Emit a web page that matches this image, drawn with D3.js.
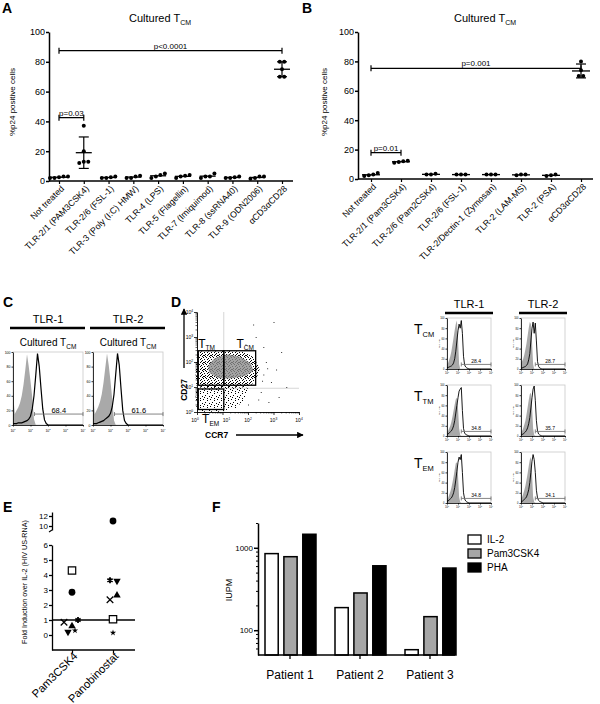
<!DOCTYPE html>
<html><head><meta charset="utf-8">
<script src="https://cdn.jsdelivr.net/npm/d3@7/dist/d3.min.js"></script>
<style>html,body{margin:0;padding:0;background:#fff}svg{display:block}</style>
</head><body>
<svg id="fig" width="600" height="704" xmlns="http://www.w3.org/2000/svg"></svg>
<script>
// ================= DATA =================
// Panel A
const aCategories = ["Not treated","TLR-2/1 (PAM3CSK4)","TLR-2/6 (FSL-1)","TLR-3 (Poly (I:C) HMW)","TLR-4 (LPS)","TLR-5 (Flagellin)","TLR-7 (Imiquimod)","TLR-8 (ssRNA40)","TLR-9 (ODN2006)","αCD3αCD28"];
const aValues = [[2,3,2.5,3,2],[37,20,13,12,13],[2,3,2.5,2],[3,2,3.5,2],[5,2,3,4],[3.5,2,3,4],[5,2,3,3],[2,3,2.5,2],[3,2,1.5,3],[80,80,75,70,70]];
const aBrackets = [{from:0,to:1,level:42.5,label:"p=0.03"},{from:0,to:9,level:87.5,label:"p<0.0001"}];
// Panel B
const bCategories = ["Not treated","TLR-2/1 (Pam3CSK4)","TLR-2/6 (Pam2CSK4)","TLR-2/6 (FSL-1)","TLR-2/Dectin-1 (Zymosan)","TLR-2 (LAM-MS)","TLR-2 (PSA)","αCD3αCD28"];
const bValues = [[4,2,2.5,3],[12.5,11.5,12,11],[3.5,3,3],[3,3,3],[3,3,3],[3,2.5,3],[3,2,2.5],[80,74,70,70]];
const bBrackets = [{from:0,to:1,level:17.9,label:"p=0.01"},{from:0,to:7,level:75.3,label:"p=0.001"}];
const yTicksPct = [0,20,40,60,80,100];

// Histograms (values = % of max at log10 intensity 0.0,0.1,...,2.0)
const cTlr1Gray  = [45,15,20,24,30,40,55,75,97,80,60,38,8,0,0,0,0,0,0,0,0];
const cTlr1Black = [2,2,2,3,3,3,4,5,6,8,12,22,40,68,98,80,50,22,7,2,0];
const cTlr2Gray  = [45,15,20,25,32,42,58,78,98,82,60,35,6,0,0,0,0,0,0,0,0];
const cTlr2Black = [2,2,2,3,4,5,6,8,10,12,16,25,42,70,98,82,50,20,6,2,0];
const cGates = [68.4, 61.6];
const dCmTlr1Gray  = [10,12,18,25,35,48,62,76,88,95,60,10,0,0,0,0,0,0,0,0,0];
const dCmTlr1Black = [3,3,4,5,6,8,12,20,35,55,75,88,80,95,70,25,8,4,2,1,0];
const dCmTlr2Gray  = [12,15,20,28,38,50,65,80,92,88,55,10,0,0,0,0,0,0,0,0,0];
const dCmTlr2Black = [2,2,3,4,5,7,10,18,30,55,80,92,70,90,55,15,5,2,1,0,0];
const dTmTlr1Gray  = [8,10,15,20,28,38,50,62,72,75,55,15,2,0,0,0,0,0,0,0,0];
const dTmTlr1Black = [3,4,6,8,10,14,20,30,45,60,75,88,92,95,50,15,6,3,2,1,0];
const dTmTlr2Gray  = [8,10,15,22,30,42,56,70,82,85,60,15,2,0,0,0,0,0,0,0,0];
const dTmTlr2Black = [2,3,4,6,8,11,16,24,36,55,75,92,98,70,30,10,4,2,1,0,0];
const dEmTlr1Gray  = [8,10,16,22,30,40,52,65,78,80,55,12,2,0,0,0,0,0,0,0,0];
const dEmTlr1Black = [3,4,6,8,10,14,20,30,45,62,80,90,85,95,60,20,8,4,2,1,0];
const dEmTlr2Gray  = [10,12,18,25,34,45,58,72,85,90,60,12,2,0,0,0,0,0,0,0,0];
const dEmTlr2Black = [2,3,5,7,9,12,18,26,40,60,82,95,85,60,25,10,5,3,2,1,0];
const dGates = [[28.4,28.7],[34.8,35.7],[34.8,34.1]];
const dRows = ["CM","TM","EM"];
const dCols = ["TLR-1","TLR-2"];
const decades = [0,1,2,3,4];

// Scatter (log10 CCR7, log10 CD27)
const scatDense = [[0.02,1.0],[2.0,1.0],[2.35,1.4],[2.45,1.7],[2.35,1.95],[2.2,2.2],[1.8,2.4],[1.2,2.45],[0.6,2.42],[0.02,2.38]];
const scatSparse = [[0.02,0.05],[1.0,0.02],[1.5,0.15],[1.85,0.5],[1.95,1.0],[0.02,1.0]];
const scatCore = [[0.5,1.55],[0.9,1.35],[1.4,1.35],[1.9,1.45],[2.2,1.65],[2.1,1.95],[1.7,2.2],[1.2,2.3],[0.7,2.15],[0.45,1.85]];
const scatOutliers = [[2.6,1.5],[2.7,2.0],[2.9,1.2],[3.1,1.7],[2.5,0.8],[2.8,0.4],[3.3,2.4],[3.0,3.6],[2.2,3.5],[2.4,0.5],[3.5,1.0],[2.6,2.6],[1.9,2.7],[2.0,0.3],[3.2,0.6],[2.3,3.0],[2.55,1.25],[2.75,1.75]];
const gateTM = [[0.05,1.07],[1.05,2.45]];
const gateCM = [[1.05,1.07],[2.3,2.45]];
const gateEM = [[0.05,0.1],[1.05,0.92]];

// Panel E
const eCategories = ["Pam3CSK4","Panobinostat"];
const eSquare   = [4.3, 1.05];
const eCircle   = [2.85, 11];
const eCross    = [0.85, 2.35];
const eTriUp    = [0.6, 2.65];
const eTriDown  = [0.2, 3.6];
const eStar     = [0.3, 0.15];
const eAsterisk = [1.0, 3.65];
const eLowTicks = [0,1,2,3,4,5,6];
const eHighTicks = [10,12];
const eReference = 1;

// Panel F
const fPatients = ["Patient 1","Patient 2","Patient 3"];
const fSeries = ["IL-2","Pam3CSK4","PHA"];
const fIL2  = [850,188,58];
const fPam3 = [780,283,146];
const fPHA  = [1460,605,568];
const fTicks = [100,1000];

// ================= DRAW =================
const FONT = '"Liberation Sans", Arial, Helvetica, sans-serif';
const svg = d3.select('#fig').attr('font-family', FONT);
const defs = svg.append('defs');

function styleAxis(sel, fs, sw){
  sel.selectAll('text').attr('font-size', fs).attr('font-family', FONT).attr('fill','#000');
  sel.selectAll('line').attr('stroke','#000').attr('stroke-width', sw);
  sel.select('.domain').attr('stroke','#000').attr('stroke-width', sw);
}
function subText(g, x, y, main, sub, size, anchor, subSize, subDy){
  const t = g.append('text').attr('x',x).attr('y',y).attr('font-size',size).attr('text-anchor',anchor||'start');
  t.append('tspan').text(main);
  t.append('tspan').attr('font-size', subSize||size*0.6).attr('dy', subDy!==undefined?subDy:size*0.25).text(sub);
  return t;
}
function supText(g, x, y, base, exp, size, anchor){
  const t = g.append('text').attr('x',x).attr('y',y).attr('font-size',size).attr('text-anchor',anchor||'middle');
  t.append('tspan').text(base);
  t.append('tspan').attr('font-size', size*0.65).attr('dy', -size*0.4).text(exp);
  return t;
}
function panelLabel(t,x,y){
  svg.append('text').attr('x',x).attr('y',y).attr('font-size',14).attr('font-weight','bold').text(t);
}
function spread(vals, thr, gap){
  const idx = vals.map((v,i)=>i).sort((a,b)=>vals[a]-vals[b]);
  const off = new Array(vals.length).fill(0);
  let cl=[idx[0]];
  const flush=()=>{const n=cl.length; cl.forEach((k,j)=>off[k]=(j-(n-1)/2)*gap);};
  for(let i=1;i<idx.length;i++){ if(vals[idx[i]]-vals[idx[i-1]]<thr) cl.push(idx[i]); else {flush(); cl=[idx[i]];} }
  flush();
  return off;
}

function dotPanel(o){
  const g = svg.append('g');
  const y = d3.scaleLinear().domain([0,100]).range([o.yb,o.yt]);
  const x = d3.scalePoint().domain(o.cats).range([o.xf,o.xl]);
  g.append('g').attr('transform',`translate(${o.xa},0)`)
    .call(d3.axisLeft(y).tickValues(yTicksPct).tickSize(3).tickSizeOuter(0).tickPadding(1))
    .call(s=>styleAxis(s,9,1.5));
  g.append('g').attr('transform',`translate(0,${o.yb})`)
    .call(d3.axisBottom(x).tickSize(3).tickSizeOuter(0))
    .call(s=>{ s.select('.domain').remove(); styleAxis(s,8.8,1.2);
      s.selectAll('text').attr('text-anchor','end').attr('y',0).attr('dy','0.35em').attr('transform','translate(3,6) rotate(-45)'); });
  g.append('line').attr('x1',o.xa).attr('x2',o.xe).attr('y1',o.yb).attr('y2',o.yb).attr('stroke','#000').attr('stroke-width',1.5);
  g.append('text').attr('transform',`translate(${o.ytx},${o.yty}) rotate(-90)`).attr('text-anchor','middle').attr('font-size',8).text('%p24 positive cells');
  subText(g,o.tx,o.ty,'Cultured T','CM',11,'middle',7,3);
  o.vals.forEach((vals,i)=>{
    const cx = x(o.cats[i]);
    const m = d3.mean(vals), sd = d3.deviation(vals);
    const off = spread(vals, 2.5, 4.5);
    vals.forEach((v,j)=>g.append('circle').attr('cx',cx+off[j]).attr('cy',y(v)).attr('r',2).attr('fill','#000'));
    g.append('line').attr('x1',cx-o.mw/2).attr('x2',cx+o.mw/2).attr('y1',y(m)).attr('y2',y(m)).attr('stroke','#000').attr('stroke-width',1.3);
    if(sd*1.47>2){
      g.append('line').attr('x1',cx).attr('x2',cx).attr('y1',y(m-sd)).attr('y2',y(m+sd)).attr('stroke','#000').attr('stroke-width',1.2);
      [m-sd,m+sd].forEach(v=>g.append('line').attr('x1',cx-5).attr('x2',cx+5).attr('y1',y(v)).attr('y2',y(v)).attr('stroke','#000').attr('stroke-width',1.2));
    }
  });
  o.brackets.forEach(b=>{
    const x1=x(o.cats[b.from]), x2=x(o.cats[b.to]), yy=y(b.level);
    g.append('path').attr('d',`M${x1},${yy-3}V${yy+3}M${x1},${yy}H${x2}M${x2},${yy-3}V${yy+3}`).attr('stroke','#000').attr('stroke-width',1.2).attr('fill','none');
    g.append('text').attr('x',(x1+x2)/2).attr('y',yy-2).attr('text-anchor','middle').attr('font-size',8).text(b.label);
  });
}

panelLabel('A',2,13);
dotPanel({cats:aCategories,vals:aValues,brackets:aBrackets,xa:49,xe:293,yb:181,yt:32,xf:59,xl:282,tx:160,ty:22,ytx:15,yty:102,mw:16});
panelLabel('B',302,13);
dotPanel({cats:bCategories,vals:bValues,brackets:bBrackets,xa:358,xe:593,yb:179,yt:32,xf:371,xl:581,tx:485,ty:22,ytx:327,yty:102,mw:18});

// ---------- histogram helper ----------
function histo(o){
  const g = svg.append('g');
  const x = d3.scaleLinear().domain([0,4]).range([o.L,o.R]);
  const y = d3.scaleLinear().domain([0,100]).range([o.B,o.T]);
  g.append('rect').attr('x',o.L).attr('y',o.T).attr('width',o.R-o.L).attr('height',o.B-o.T).attr('fill','none').attr('stroke','#c8c8c8').attr('stroke-width',0.8);
  const pts = arr => arr.map((v,i)=>[i*0.1, v]);
  g.append('path').datum(pts(o.gray)).attr('fill','#a9a9a9')
    .attr('d', d3.area().x(d=>x(d[0])).y0(y(0)).y1(d=>y(d[1])));
  g.append('path').datum(pts(o.black).concat([[4,0]])).attr('fill','none').attr('stroke','#000').attr('stroke-width',o.lw||1)
    .attr('d', d3.line().x(d=>x(d[0])).y(d=>y(d[1])));
  g.append('g').attr('transform',`translate(${o.L},0)`)
    .call(d3.axisLeft(y).tickValues(yTicksPct).tickSize(1.5).tickSizeOuter(0).tickPadding(1))
    .call(s=>styleAxis(s,o.fs,0.8));
  g.append('g').attr('transform',`translate(0,${o.B})`)
    .call(d3.axisBottom(x).tickValues(decades).tickSize(1.5).tickSizeOuter(0).tickFormat(''))
    .call(s=>styleAxis(s,o.fs,0.8));
  decades.forEach(k=>supText(g,x(k),o.B+o.fs*1.6+1,'10',String(k),o.fs,'middle'));
  const gy = y(o.gateY), gx1 = x(o.gateFrom), gx2 = x(4);
  g.append('path').attr('d',`M${gx1},${gy-2}V${gy+2}M${gx1},${gy}H${gx2}M${gx2},${gy-2}V${gy+2}`).attr('stroke','#777').attr('stroke-width',0.9).attr('fill','none');
  g.append('text').attr('x',(gx1+gx2)/2).attr('y',gy-1.5).attr('text-anchor','middle').attr('font-size',o.gfs).text(o.gateLabel.toFixed(1));
  if(o.ylab) g.append('text').attr('transform',`translate(${o.L-o.fs*2.6},${(o.T+o.B)/2}) rotate(-90)`).attr('text-anchor','middle').attr('font-size',o.fs*0.8).text('% of Max');
}

// ---------- Panel C ----------
panelLabel('C',3,307);
const cPlots = [[13,83,cTlr1Gray,cTlr1Black],[93,163,cTlr2Gray,cTlr2Black]];
cPlots.forEach((p,i)=>{
  const cx=(p[0]+p[1])/2;
  svg.append('text').attr('x',cx).attr('y',323).attr('text-anchor','middle').attr('font-size',11).text(dCols[i]);
  svg.append('line').attr('x1',p[0]-3).attr('x2',p[1]+2).attr('y1',328).attr('y2',328).attr('stroke','#000').attr('stroke-width',2.5);
  subText(svg,cx,346,'Cultured T','CM',10,'middle',6.5,3);
  histo({L:p[0],R:p[1],T:352,B:425,gray:p[2],black:p[3],fs:3.5,gfs:7.5,gateY:15,gateFrom:1.23,gateLabel:cGates[i],lw:1.2});
});

// ---------- Panel D scatter ----------
panelLabel('D',171,307);
(function(){
  const g = svg.append('g');
  const x = d3.scaleLinear().domain([0,4]).range([197,299]);
  const y = d3.scaleLinear().domain([0,4]).range([412,312]);
  const pd = defs.append('pattern').attr('id','dense').attr('width',7).attr('height',7).attr('patternUnits','userSpaceOnUse');
  [[0,0],[3,0],[5,1],[1,2],[4,2],[6,3],[2,4],[0,5],[4,5],[6,6],[2,6],[5,4],[1,5]].forEach(p=>pd.append('rect').attr('x',p[0]).attr('y',p[1]).attr('width',1).attr('height',1).attr('fill','#000'));
  const ps = defs.append('pattern').attr('id','sparse').attr('width',7).attr('height',7).attr('patternUnits','userSpaceOnUse');
  [[0,0],[4,1],[2,3],[6,4],[1,5],[4,6]].forEach(p=>ps.append('rect').attr('x',p[0]).attr('y',p[1]).attr('width',1).attr('height',1).attr('fill','#000'));
  g.append('line').attr('x1',x(1.05)).attr('x2',x(1.05)).attr('y1',y(4)).attr('y2',y(0)).attr('stroke','#ccc').attr('stroke-width',0.8);
  g.append('line').attr('x1',x(0)).attr('x2',x(4)).attr('y1',y(0.95)).attr('y2',y(0.95)).attr('stroke','#ccc').attr('stroke-width',0.8);
  const line = d3.line().x(d=>x(d[0])).y(d=>y(d[1])).curve(d3.curveCardinalClosed.tension(0.6));
  g.append('path').datum(scatSparse).attr('d',line).attr('fill','url(#sparse)');
  g.append('path').datum(scatDense).attr('d',line).attr('fill','url(#dense)');
  g.append('path').datum(scatCore).attr('d',line).attr('fill','#8c8c8c').attr('opacity',0.8);
  scatOutliers.forEach(p=>g.append('rect').attr('x',x(p[0])).attr('y',y(p[1])).attr('width',1).attr('height',1).attr('fill','#333'));
  [gateTM,gateCM,gateEM].forEach(gt=>g.append('rect').attr('x',x(gt[0][0])).attr('y',y(gt[1][1])).attr('width',x(gt[1][0])-x(gt[0][0])).attr('height',y(gt[0][1])-y(gt[1][1])).attr('fill','none').attr('stroke','#000').attr('stroke-width',1.3));
  const minor = []; decades.slice(0,4).forEach(k=>{for(let m=2;m<10;m++) minor.push(k+Math.log10(m));});
  g.append('g').attr('transform',`translate(${x(0)},0)`).call(d3.axisLeft(y).tickValues(decades).tickSize(3).tickSizeOuter(0).tickFormat('')).call(s=>styleAxis(s,5,0.8));
  g.append('g').attr('transform',`translate(${x(0)},0)`).call(d3.axisLeft(y).tickValues(minor).tickSize(1.5).tickSizeOuter(0).tickFormat('')).call(s=>styleAxis(s,5,0.6));
  g.append('g').attr('transform',`translate(0,${y(0)})`).call(d3.axisBottom(x).tickValues(decades).tickSize(3).tickSizeOuter(0).tickFormat('')).call(s=>styleAxis(s,5,0.8));
  g.append('g').attr('transform',`translate(0,${y(0)})`).call(d3.axisBottom(x).tickValues(minor).tickSize(1.5).tickSizeOuter(0).tickFormat('')).call(s=>styleAxis(s,5,0.6));
  decades.forEach(k=>{ supText(g,x(0)-4,y(k)+2,'10',String(k),5,'end'); });
  decades.forEach(k=>{ if(k!==0 && k!==1) supText(g,x(k),y(0)+10,'10',String(k),5,'middle'); });
  supText(g,x(0)-2,y(0)+10,'10','0',5,'middle');
  supText(g,x(1)+4,y(0)+10,'10','1',5,'middle');
  subText(g,x(0.05),y(2.45)-3,'T','TM',12,'start',6.5,2.5);
  subText(g,x(1.55),y(2.45)-3,'T','CM',12,'start',6.5,2.5);
  subText(g,x(0.2),y(0)+11,'T','EM',12,'start',6.5,2.5);
  defs.append('marker').attr('id','arr').attr('viewBox','0 0 10 10').attr('refX',9).attr('refY',5).attr('markerWidth',5).attr('markerHeight',5).attr('orient','auto')
    .append('path').attr('d','M0,0L10,5L0,10z').attr('fill','#000');
  g.append('line').attr('x1',184).attr('x2',184).attr('y1',368).attr('y2',309).attr('stroke','#000').attr('stroke-width',1.3).attr('marker-end','url(#arr)');
  g.append('text').attr('transform','translate(187,390) rotate(-90)').attr('text-anchor','middle').attr('font-size',8.5).attr('font-weight','bold').text('CD27');
  g.append('text').attr('x',205).attr('y',438).attr('font-size',8.5).attr('font-weight','bold').text('CCR7');
  g.append('line').attr('x1',236).attr('x2',303).attr('y1',435).attr('y2',435).attr('stroke','#000').attr('stroke-width',1.3).attr('marker-end','url(#arr)');
})();

// ---------- Panel D histogram grid ----------
const dGrid = [[dCmTlr1Gray,dCmTlr1Black,dCmTlr2Gray,dCmTlr2Black],[dTmTlr1Gray,dTmTlr1Black,dTmTlr2Gray,dTmTlr2Black],[dEmTlr1Gray,dEmTlr1Black,dEmTlr2Gray,dEmTlr2Black]];
const dColL = [447,521], dW = 44, dRowT = [318,385,452], dH = 51;
dCols.forEach((c,j)=>{
  svg.append('text').attr('x',dColL[j]+dW/2).attr('y',308).attr('text-anchor','middle').attr('font-size',11).text(c);
  svg.append('line').attr('x1',dColL[j]-2).attr('x2',dColL[j]+dW+2).attr('y1',313).attr('y2',313).attr('stroke','#000').attr('stroke-width',2.5);
});
dRows.forEach((r,i)=>{
  subText(svg,414,dRowT[i]+16,'T',r,14,'start',7.5,3);
  dCols.forEach((c,j)=>{
    histo({L:dColL[j],R:dColL[j]+dW,T:dRowT[i],B:dRowT[i]+dH,gray:dGrid[i][j*2],black:dGrid[i][j*2+1],fs:2.6,gfs:5,gateY:9,gateFrom:1.3,gateLabel:dGates[i][j],ylab:true,lw:0.9});
  });
});

// ---------- Panel E ----------
panelLabel('E',3,512);
(function(){
  const g = svg.append('g');
  const x = d3.scalePoint().domain(eCategories).range([72,113]);
  const yLow = d3.scaleLinear().domain([-1,6]).range([650,545]);
  const yHigh = d3.scaleLinear().domain([9.2,12.8]).range([530,512]);
  const fmt = d3.format('d');
  g.append('g').attr('transform','translate(52,0)').call(d3.axisLeft(yLow).tickValues(eLowTicks).tickFormat(fmt).tickSize(3).tickSizeOuter(0).tickPadding(1)).call(s=>styleAxis(s,8,1.3));
  g.append('g').attr('transform','translate(52,0)').call(d3.axisLeft(yHigh).tickValues(eHighTicks).tickFormat(fmt).tickSize(3).tickSizeOuter(0).tickPadding(1)).call(s=>styleAxis(s,8,1.3));
  g.append('path').attr('d','M49,532L52,530').attr('stroke','#000').attr('stroke-width',1.2);
  g.append('line').attr('x1',52).attr('x2',135).attr('y1',650).attr('y2',650).attr('stroke','#000').attr('stroke-width',1.5);
  g.append('g').attr('transform','translate(0,650)').call(d3.axisBottom(x).tickSize(3).tickSizeOuter(0))
    .call(s=>{ s.select('.domain').remove(); styleAxis(s,11.3,1.2);
      s.selectAll('text').attr('text-anchor','end').attr('y',0).attr('dy','0.35em').attr('transform','translate(3,4) rotate(-45)'); });
  g.append('line').attr('x1',52).attr('x2',135).attr('y1',yLow(eReference)).attr('y2',yLow(eReference)).attr('stroke','#000').attr('stroke-width',1.5);
  g.append('text').attr('transform','translate(27,582) rotate(-90)').attr('text-anchor','middle').attr('font-size',7.2).text('Fold Induction over IL-2 (HIV US-RNA)');
  const series = [
    {v:eSquare, t:d3.symbolSquare, s:55, fill:'#fff', stroke:'#000', dx:[0,0]},
    {v:eCircle, t:d3.symbolCircle, s:36, fill:'#000', stroke:'none', dx:[0,0]},
    {v:eCross, t:d3.symbolTimes, s:30, fill:'none', stroke:'#000', dx:[-8,-3]},
    {v:eTriUp, t:d3.symbolTriangle, s:24, fill:'#000', stroke:'none', dx:[0,4]},
    {v:eTriDown, t:d3.symbolTriangle, s:24, fill:'#000', stroke:'none', dx:[-4,4], rot:180},
    {v:eStar, t:d3.symbolStar, s:12, fill:'#000', stroke:'none', dx:[3,0]},
    {v:eAsterisk, t:d3.symbolAsterisk, s:26, fill:'none', stroke:'#000', dx:[6,-3], sw:1.8}
  ];
  series.forEach(se=>{
    se.v.forEach((v,i)=>{
      const yy = v>8 ? yHigh(v) : yLow(v);
      g.append('path').attr('d',d3.symbol().type(se.t).size(se.s)())
        .attr('transform',`translate(${x(eCategories[i])+se.dx[i]},${yy}) rotate(${se.rot||0})`)
        .attr('fill',se.fill).attr('stroke',se.stroke).attr('stroke-width',se.sw||1.2);
    });
  });
})();

// ---------- Panel F ----------
panelLabel('F',212,512);
(function(){
  const g = svg.append('g');
  const x0 = d3.scaleBand().domain(fPatients).range([255,465]);
  const x1 = d3.scaleBand().domain(fSeries).range([10,61]).paddingInner(0.3);
  const y = d3.scaleLog().domain([50,2000]).range([655,523]);
  const colors = d3.scaleOrdinal().domain(fSeries).range(['#ffffff','#a6a6a6','#000000']);
  const vals = [fIL2,fPam3,fPHA];
  const minor = [60,70,80,90,200,300,400,500,600,700,800,900,2000];
  g.append('g').attr('transform','translate(258,0)').call(d3.axisLeft(y).tickValues(fTicks).tickFormat(d3.format('d')).tickSize(4).tickSizeOuter(0).tickPadding(1)).call(s=>styleAxis(s,8,1.5));
  g.append('g').attr('transform','translate(258,0)').call(d3.axisLeft(y).tickValues(minor).tickFormat('').tickSize(2).tickSizeOuter(0)).call(s=>{styleAxis(s,8,1); s.select('.domain').remove();});
  fSeries.forEach((s,k)=>{
    fPatients.forEach((p,i)=>{
      g.append('rect').attr('x',x0(p)+x1(s)).attr('y',y(vals[k][i])).attr('width',x1.bandwidth()).attr('height',y(50)-y(vals[k][i]))
        .attr('fill',colors(s)).attr('stroke','#000').attr('stroke-width',1.5);
    });
  });
  g.append('line').attr('x1',258).attr('x2',455).attr('y1',655).attr('y2',655).attr('stroke','#000').attr('stroke-width',1.5);
  fPatients.forEach(p=>{
    const cx = x0(p)+x0.bandwidth()/2;
    g.append('line').attr('x1',cx).attr('x2',cx).attr('y1',655).attr('y2',659).attr('stroke','#000').attr('stroke-width',1.3);
    g.append('text').attr('x',cx).attr('y',679).attr('text-anchor','middle').attr('font-size',12).text(p);
  });
  g.append('text').attr('transform','translate(232,590) rotate(-90)').attr('text-anchor','middle').attr('font-size',9).text('IUPM');
  fSeries.forEach((s,k)=>{
    const ly = 535 + k*14;
    g.append('rect').attr('x',468).attr('y',ly).attr('width',13).attr('height',9).attr('fill',colors(s)).attr('stroke','#000').attr('stroke-width',1.3);
    g.append('text').attr('x',487).attr('y',ly+8).attr('font-size',10).text(s);
  });
})();
</script>
</body></html>
